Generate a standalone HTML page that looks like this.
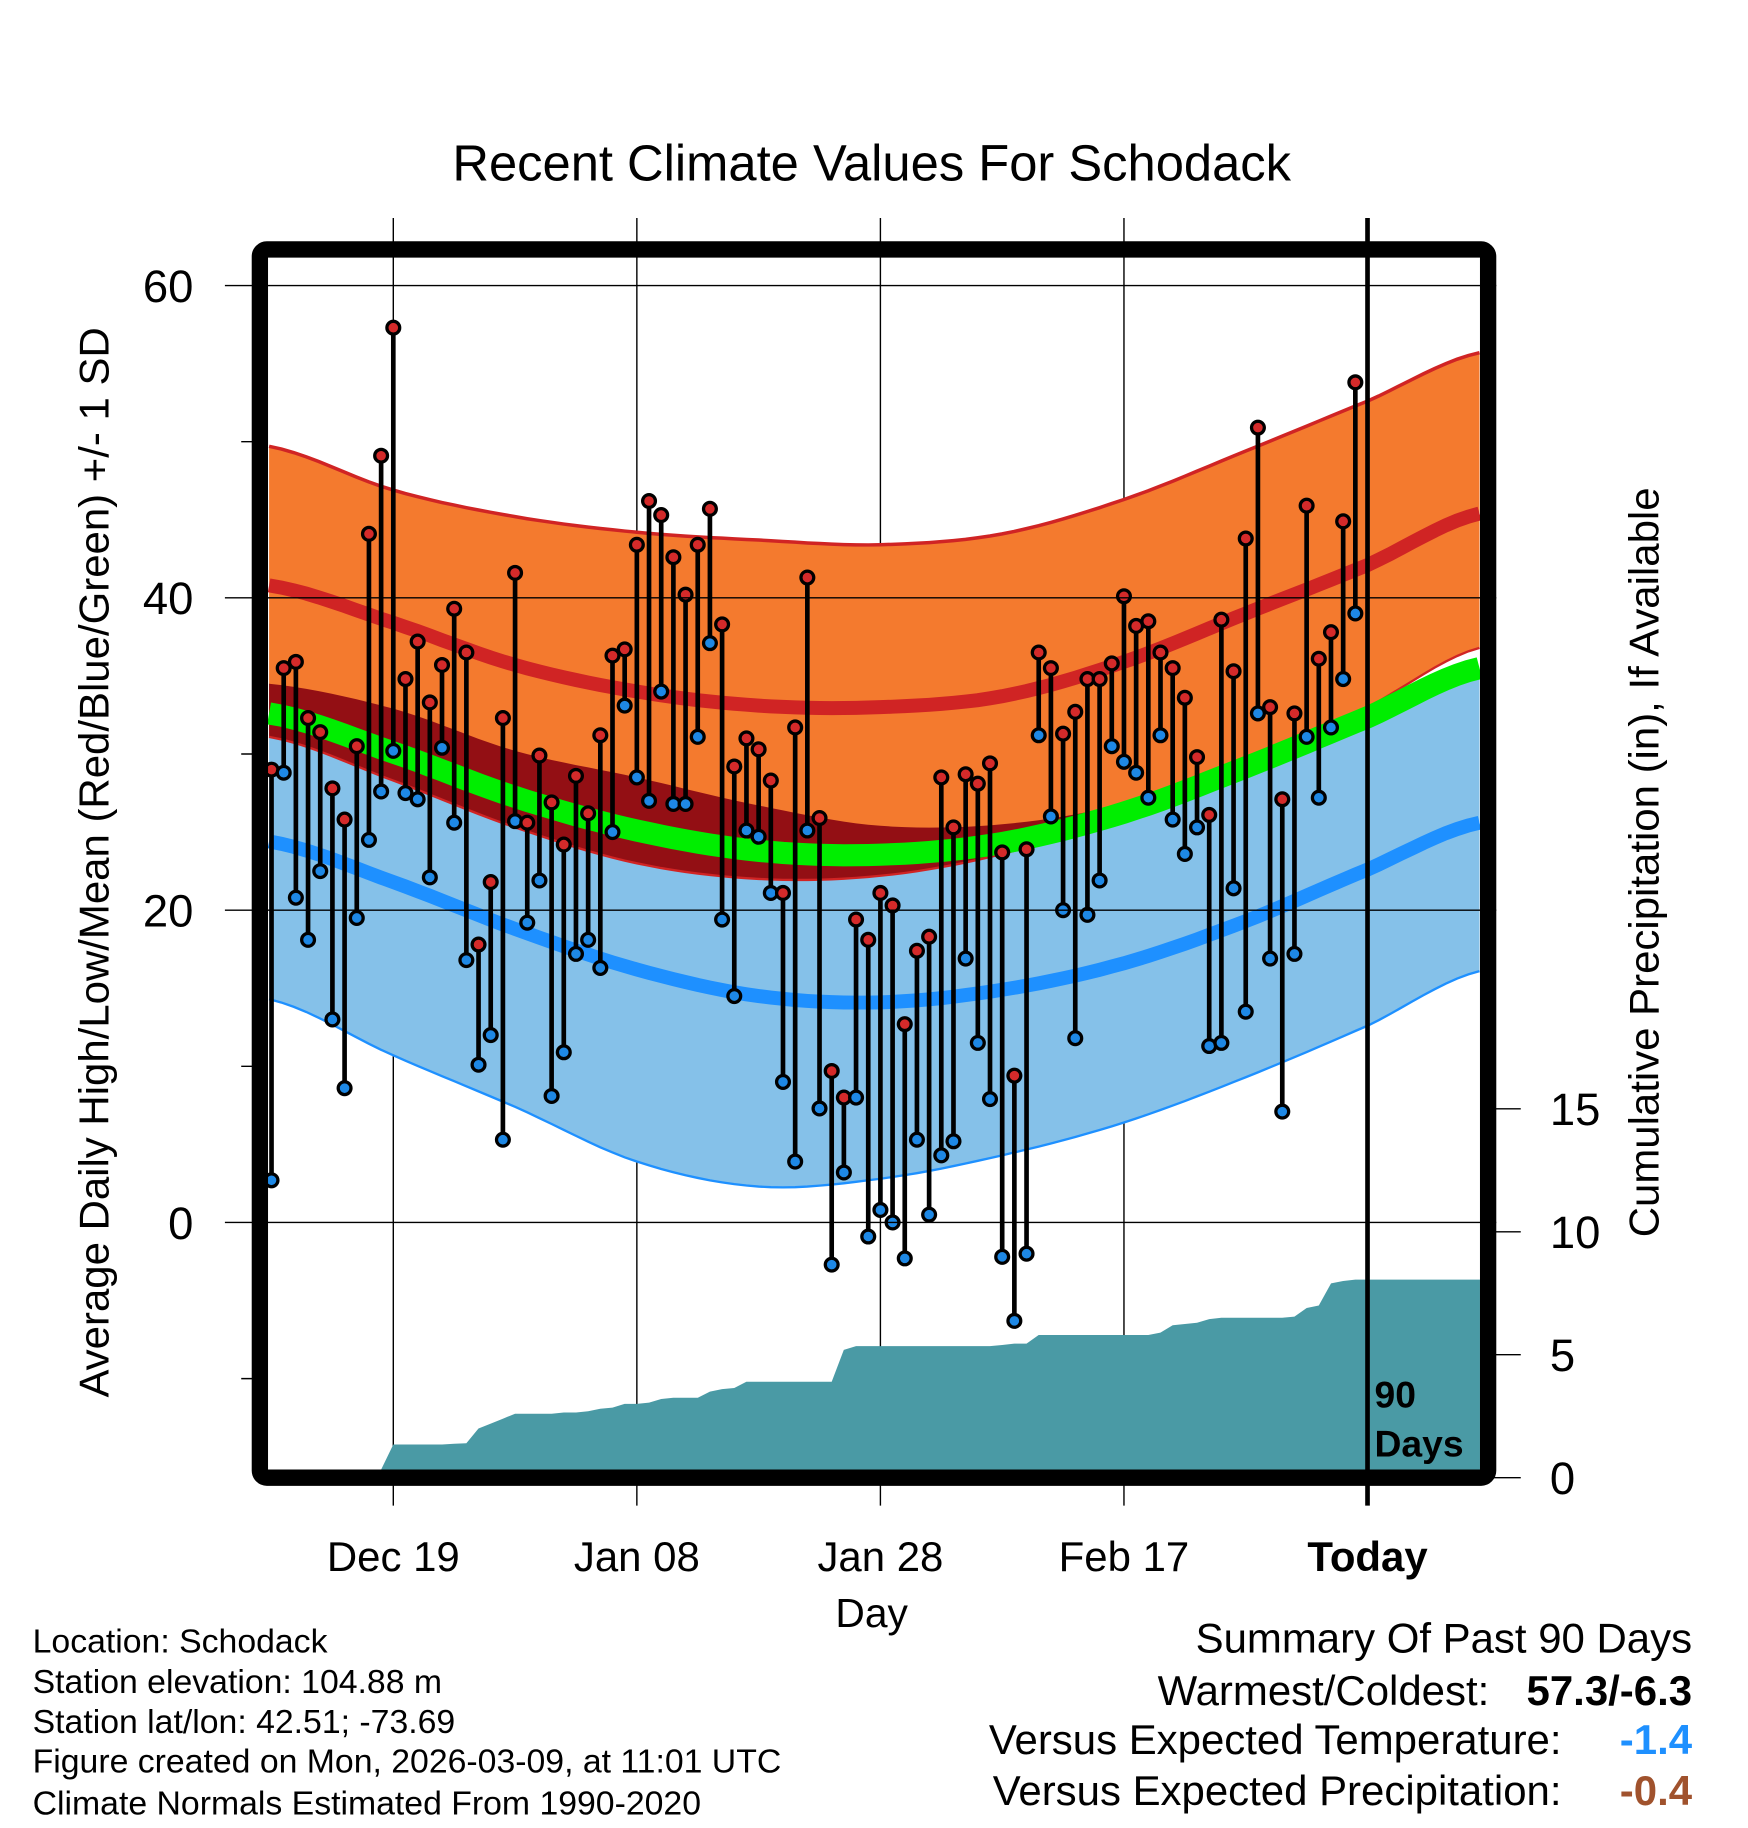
<!DOCTYPE html>
<html><head><meta charset="utf-8"><style>
html,body{margin:0;padding:0;background:#fff}
svg{display:block}
text{font-family:"Liberation Sans",Arial,sans-serif;fill:#000}
</style></head><body>
<svg id="chart" width="1748" height="1828" viewBox="0 0 1500 1568.6" xmlns="http://www.w3.org/2000/svg">
<text x="748" y="155" font-size="43.5" text-anchor="middle">Recent Climate Values For Schodack</text>
<g id="grid"></g>
<g id="bands"></g>
<g id="precip"></g>
<g id="marks"></g>
<g id="axes"></g>
<text transform="translate(93,740) rotate(-90)" font-size="36" text-anchor="middle">Average Daily High/Low/Mean (Red/Blue/Green) +/- 1 SD</text>
<text transform="translate(1423,740) rotate(-90)" font-size="36" text-anchor="middle">Cumulative Precipitation (in), If Available</text>
<text x="748" y="1396" font-size="35" text-anchor="middle">Day</text>
<g font-size="29">
<text x="28" y="1418">Location: Schodack</text>
<text x="28" y="1453">Station elevation: 104.88 m</text>
<text x="28" y="1487">Station lat/lon: 42.51; -73.69</text>
<text x="28" y="1521">Figure created on Mon, 2026-03-09, at 11:01 UTC</text>
<text x="28" y="1557">Climate Normals Estimated From 1990-2020</text>
</g>
<g font-size="36">
<text x="1452" y="1418" text-anchor="end">Summary Of Past 90 Days</text>
<text x="1278" y="1463" text-anchor="end">Warmest/Coldest:</text>
<text x="1452" y="1463" text-anchor="end" font-weight="bold">57.3/-6.3</text>
<text x="1340" y="1505" text-anchor="end">Versus Expected Temperature:</text>
<text x="1452" y="1505" text-anchor="end" font-weight="bold" style="fill:#1e90ff">-1.4</text>
<text x="1340" y="1549" text-anchor="end">Versus Expected Precipitation:</text>
<text x="1452" y="1549" text-anchor="end" font-weight="bold" style="fill:#a0522d">-0.4</text>
</g>
</svg>
<script>
const highs=[29,35.5,35.9,32.3,31.4,27.8,25.8,30.5,44.1,49.1,57.3,34.8,37.2,33.3,35.7,39.3,36.5,17.8,21.8,32.3,41.6,25.6,29.9,26.9,24.2,28.6,26.2,31.2,36.3,36.7,43.4,46.2,45.3,42.6,40.2,43.4,45.7,38.3,29.2,31,30.3,28.3,21.1,31.7,41.3,25.9,9.7,8,19.4,18.1,21.1,20.3,12.7,17.4,18.3,28.5,25.3,28.7,28.1,29.4,23.7,9.4,23.9,36.5,35.5,31.3,32.7,34.8,34.8,35.8,40.1,38.2,38.5,36.5,35.5,33.6,29.8,26.1,38.6,35.3,43.8,50.9,33,27.1,32.6,45.9,36.1,37.8,44.9,53.8];
const lows=[2.7,28.8,20.8,18.1,22.5,13,8.6,19.5,24.5,27.6,30.2,27.5,27.1,22.1,30.4,25.6,16.8,10.1,12,5.3,25.7,19.2,21.9,8.1,10.9,17.2,18.1,16.3,25,33.1,28.5,27,34,26.8,26.8,31.1,37.1,19.4,14.5,25.1,24.7,21.1,9,3.9,25.1,7.3,-2.7,3.2,8,-0.9,0.8,0,-2.3,5.3,0.5,4.3,5.2,16.9,11.5,7.9,-2.2,-6.3,-2,31.2,26,20,11.8,19.7,21.9,30.5,29.5,28.8,27.2,31.2,25.8,23.6,25.3,11.3,11.5,21.4,13.5,32.6,16.9,7.1,17.2,31.1,27.2,31.7,34.8,39];
const precip=[0,0,0,0,0,0,0,0,0,0,1.35,1.35,1.35,1.35,1.35,1.38,1.4,2.0,2.2,2.4,2.6,2.6,2.6,2.6,2.65,2.65,2.7,2.8,2.85,3.0,3.0,3.05,3.2,3.25,3.25,3.25,3.5,3.6,3.65,3.9,3.9,3.9,3.9,3.9,3.9,3.9,3.9,5.2,5.35,5.35,5.35,5.35,5.35,5.35,5.35,5.35,5.35,5.35,5.35,5.35,5.4,5.45,5.45,5.8,5.8,5.8,5.8,5.8,5.8,5.8,5.8,5.8,5.8,5.9,6.2,6.25,6.3,6.45,6.5,6.5,6.5,6.5,6.5,6.5,6.55,6.9,7.0,7.9,8.0,8.05];
const normDays=[-0.2,10,20,30,40,50,60,70,80,90,99.2];
const highUpper=[49.7,46.9,45.2,44.2,43.7,43.4,44.1,46.3,49.4,52.6,55.7];
const highMean=[40.8,38.4,35.7,34.0,33.1,33.0,33.7,35.9,39.0,42.1,45.4];
const highLower=[31.1,28.3,25.3,23.0,22.0,22.2,23.6,26.2,29.6,33.0,36.8];
const lowUpper=[34.5,32.9,30.2,28.5,26.7,25.4,25.5,26.8,29.3,32.6,35.1];
const lowMean=[24.4,21.8,18.8,16.2,14.5,14.1,14.9,16.6,19.3,22.6,25.6];
const lowLower=[14.3,10.7,7.4,3.9,2.3,2.8,4.3,6.4,9.3,12.6,16.1];
const yTicks=[60,40,20,0];
const yMinor=[50,30,10,-10];
const pTicks=[0,5,10,15];
const xTickDays=[10,30,50,70,90];
const xTickLabels=["Dec 19","Jan 08","Jan 28","Feb 17","Today"];

const NS="http://www.w3.org/2000/svg";
const X=d=>233+10.45*d;
const Y=t=>1049-13.4*t;
const P=v=>1268-21.1*v;
const L=230,R=1270,T=221,B=1261;
function mk(tag,attrs,parent){const e=document.createElementNS(NS,tag);for(const k in attrs)e.setAttribute(k,attrs[k]);parent.appendChild(e);return e;}
function interp(arr){
  const pts=[];const n=normDays.length;
  for(let i=0;i<n-1;i++){
    const p0=arr[Math.max(0,i-1)],p1=arr[i],p2=arr[i+1],p3=arr[Math.min(n-1,i+2)];
    const d1=normDays[i],d2=normDays[i+1];
    for(let s=0;s<10;s++){const t=s/10;
      const v=0.5*((2*p1)+(-p0+p2)*t+(2*p0-5*p1+4*p2-p3)*t*t+(-p0+3*p1-3*p2+p3)*t*t*t);
      pts.push([d1+(d2-d1)*t,v]);}
  }
  pts.push([normDays[n-1],arr[n-1]]);return pts;
}
const pstr=pts=>pts.map(p=>X(p[0]).toFixed(1)+","+Y(p[1]).toFixed(1)).join(" ");
const bands=document.getElementById('bands');
const hu=interp(highUpper),hm=interp(highMean),hl=interp(highLower),lu=interp(lowUpper),lm=interp(lowMean),ll=interp(lowLower);
let e;
e=mk('polygon',{points:pstr(lu)+" "+pstr(ll.slice().reverse()),fill:'#85c1e9'},bands);


e=mk('polyline',{points:pstr(lu),fill:'none',stroke:'#1e90ff','stroke-width':2},bands);


e=mk('polyline',{points:pstr(ll),fill:'none',stroke:'#1e90ff','stroke-width':2},bands);


e=mk('polygon',{points:pstr(hu)+" "+pstr(hl.slice().reverse()),fill:'#f47a2e'},bands);


const ov=lu.map((p,i)=>[p[0],Math.min(p[1],hl[i][1])]);
e=mk('polygon',{points:pstr(lu)+" "+pstr(ov.slice().reverse()),fill:'#930f14'},bands);


e=mk('polyline',{points:pstr(hu),fill:'none',stroke:'#d02424','stroke-width':3},bands);


e=mk('polyline',{points:pstr(hl),fill:'none',stroke:'#d02424','stroke-width':2},bands);


e=mk('polyline',{points:pstr(hm),fill:'none',stroke:'#d02424','stroke-width':12},bands);


e=mk('polyline',{points:pstr(lm),fill:'none',stroke:'#1e90ff','stroke-width':12},bands);


const mean=hm.map((p,i)=>[p[0],(p[1]+lm[i][1])/2]);
e=mk('polyline',{points:pstr(mean),fill:'none',stroke:'#00ee00','stroke-width':19},bands);



const pg=document.getElementById('precip');
let pp=[[X(0),B]];precip.forEach((v,i)=>pp.push([X(i),P(v)]));
pp.push([R,P(precip[precip.length-1])]);pp.push([R,B]);
e=mk('polygon',{points:pp.map(p=>p[0].toFixed(1)+","+Math.min(p[1],B).toFixed(1)).join(" "),fill:'#4a9aa5'},pg);



const g=document.getElementById('grid');
xTickDays.forEach((d,i)=>{ if(i<4){
  e=mk('line',{x1:X(d),x2:X(d),y1:187,y2:1292,stroke:'#000','stroke-width':1.2},g);
  
  }});
const marks=document.getElementById('marks');
const ax=document.getElementById('axes');
yTicks.forEach(t=>{
  e=mk('line',{x1:193,x2:1284,y1:Y(t),y2:Y(t),stroke:'#000','stroke-width':1.2},ax);
  
  
  e=mk('text',{x:166,y:Y(t)+14,'font-size':39,'text-anchor':'end'},ax);e.textContent=t;
  
  
});
yMinor.forEach(t=>{
  e=mk('line',{x1:207,x2:222,y1:Y(t),y2:Y(t),stroke:'#000','stroke-width':1.2},ax);
  
  
});
pTicks.forEach(v=>{
  e=mk('line',{x1:1278,x2:1305,y1:P(v),y2:P(v),stroke:'#000','stroke-width':1.2},ax);
  
  
  e=mk('text',{x:1330,y:P(v)+14,'font-size':39},ax);e.textContent=v;
  
  
});
xTickDays.forEach((d,i)=>{
  e=mk('text',{x:X(d),y:1348,'font-size':36,'text-anchor':'middle','font-weight':i==4?'bold':'normal'},ax);e.textContent=xTickLabels[i];
  
  
});

highs.forEach((h,i)=>{
  const l=lows[i];
  e=mk('line',{x1:X(i),x2:X(i),y1:Y(h),y2:Y(l),stroke:'#000','stroke-width':4},marks);
  
  
});
highs.forEach((h,i)=>{
  e=mk('circle',{cx:X(i),cy:Y(h),r:5.5,fill:'#d42a2a',stroke:'#000','stroke-width':2.8},marks);
  
  
  e=mk('circle',{cx:X(i),cy:Y(lows[i]),r:5.5,fill:'#1e88e5',stroke:'#000','stroke-width':2.8},marks);
  
  
});

e=mk('line',{x1:X(90),x2:X(90),y1:187,y2:1292,stroke:'#000','stroke-width':4},ax);


e=mk('rect',{x:223,y:214,width:1054,height:1054,rx:6,fill:'none',stroke:'#000','stroke-width':14},ax);


e=mk('text',{x:X(90)+6,y:1208,'font-size':32,'font-weight':'bold'},ax);e.textContent='90';


e=mk('text',{x:X(90)+6,y:1250,'font-size':32,'font-weight':'bold'},ax);e.textContent='Days';


</script>
</body></html>
